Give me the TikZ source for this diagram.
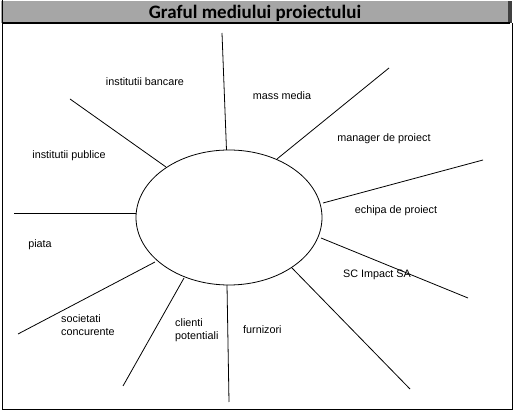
\documentclass[tikz,border=0pt]{standalone}
\usepackage{fontspec}
\setmainfont{Liberation Sans}
\newfontfamily\titlefont{Carlito}
\usetikzlibrary{shapes.geometric}
\definecolor{bargray}{HTML}{A6A6A6}
\begin{document}
\begin{tikzpicture}[x=1pt,y=-1pt,
  spoke/.style={draw=black,line width=0.8pt},
  lbl/.style={font=\fontsize{10.8}{13}\selectfont,inner sep=0pt,align=left},
  frame/.style={draw=black,line width=1.2pt}]
\useasboundingbox (0,0) rectangle (514,411);
% title bar
\fill[bargray] (1,1) rectangle (510,23);
\fill[black!75] (508,1) rectangle (512,23);
\draw[frame] (2.5,0) -- (2.5,409.5) -- (512.5,409.5) -- (512.5,23);
\draw[frame] (2.5,23) -- (510,23);
\node[font=\titlefont\bfseries\fontsize{19}{22}\selectfont,anchor=base,inner sep=0pt] (title) at (255,18.5) {Graful mediului proiectului};
% central ellipse
\node[ellipse,draw=black,line width=0.8pt,minimum width=186pt,minimum height=135pt,inner sep=0pt] (proj) at (229,217.5) {};
% spoke ends
\coordinate (a1) at (222,33);   \coordinate (b1) at (226.5,150);
\coordinate (a2) at (70,99);    \coordinate (b2) at (166,167);
\coordinate (a3) at (14,213);   \coordinate (b3) at (136,213);
\coordinate (a4) at (18,334);   \coordinate (b4) at (155,262);
\coordinate (a5) at (123,386);  \coordinate (b5) at (184,278);
\coordinate (a6) at (229,402);  \coordinate (b6) at (227,285);
\coordinate (a7) at (410,389);  \coordinate (b7) at (292,268);
\coordinate (a8) at (468,298);  \coordinate (b8) at (321,238);
\coordinate (a9) at (483,160);  \coordinate (b9) at (323,203);
\coordinate (a10) at (389,68);  \coordinate (b10) at (277,159);
\foreach \i in {1,...,10} {\draw[spoke] (a\i) -- (b\i);}
% labels
\node[lbl] (l1) at (145,82) {institutii bancare};
\node[lbl] (l2) at (282,96) {mass media};
\node[lbl] (l3) at (384,139) {manager de proiect};
\node[lbl] (l4) at (69,156) {institutii publice};
\node[lbl] (l5) at (396,211) {echipa de proiect};
\node[lbl] (l6) at (40,245) {piata};
\node[lbl] (l7) at (377,275) {SC Impact SA};
\node[lbl,anchor=west] (l8) at (61,325) {societati\\concurente};
\node[lbl,anchor=west] (l9) at (175,330) {clienti\\potentiali};
\node[lbl,anchor=west] (l10) at (243,330) {furnizori};
\end{tikzpicture}
\end{document}
